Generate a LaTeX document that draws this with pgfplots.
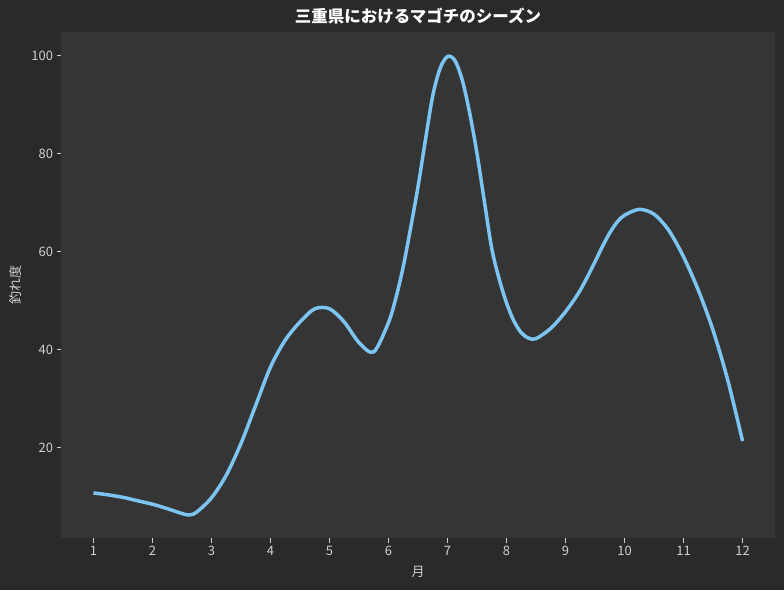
\documentclass[border=0pt]{standalone}
\usepackage{fontspec}
\setmainfont{Noto Sans CJK JP}
\usepackage{pgfplots}
\pgfplotsset{compat=1.18}

\definecolor{outerbg}{HTML}{2A2A2A}
\definecolor{innerbg}{HTML}{353535}
\definecolor{curve}{HTML}{7CC4F2}
\definecolor{ticktext}{HTML}{D0D0D0}

\begin{document}
\begin{tikzpicture}
\fill[outerbg] (-61pt,-52pt) rectangle (723pt,538pt);
\begin{axis}[
  scale only axis,
  width=714pt, height=506pt,
  xmin=0.45, xmax=12.55,
  ymin=1.5, ymax=104.8,
  xtick={1,2,3,4,5,6,7,8,9,10,11,12},
  ytick={20,40,60,80,100},
  axis background/.style={fill=innerbg},
  axis line style={draw=none},
  tick align=outside,
  tick pos=left,
  major tick length=4.5pt,
  tick style={ticktext, line width=0.9pt},
  ticklabel style={font=\fontsize{13}{14}\selectfont, text=ticktext},
  /pgf/number format/assume math mode=true,
  title={三重県におけるマゴチのシーズン},
  title style={font=\fontsize{16.5}{18}\selectfont\bfseries, text=white, yshift=-2pt},
  xlabel={月},
  ylabel={釣れ度},
  label style={font=\fontsize{13}{14}\selectfont, text=ticktext},
  xlabel style={yshift=-4pt},
  ylabel style={yshift=3pt},
]
% monthly seasonality curve
\addplot[curve, line width=3.5pt, smooth] coordinates {
  (1,10.7) (1.25,10.3) (1.5,9.8) (1.75,9.1) (2,8.4) (2.25,7.5) (2.5,6.5)
  (2.625,6.2) (2.75,6.8) (3,9.7) (3.25,14.3) (3.5,20.8) (3.75,28.6) (4,36.4)
  (4.25,41.9) (4.5,45.6) (4.75,48.3) (5,48.3) (5.25,45.6)
  (5.5,41.4) (5.75,39.5) (6,45.5) (6.125,50.5) (6.25,56.9) (6.375,64.8)
  (6.5,73.2) (6.625,82.7) (6.75,91.8) (6.875,97.4) (7,99.8) (7.125,99.0)
  (7.25,95.0) (7.375,88.3) (7.5,80.0) (7.625,70.2) (7.75,60.6) (7.875,54.4)
  (8,49.5) (8.125,45.8) (8.25,43.4) (8.375,42.3) (8.5,42.2)
  (8.75,44.3) (9,47.7) (9.25,52.1) (9.5,57.9) (9.625,61.0) (9.75,63.8)
  (9.875,66.0) (10,67.4) (10.25,68.6) (10.5,67.6) (10.75,64.3) (11,58.9)
  (11.25,52.1) (11.5,43.9) (11.75,33.7) (12,21.3)
};
\end{axis}
\pgfresetboundingbox
\path[use as bounding box] (-61pt,-52pt) rectangle (723pt,538pt);
\end{tikzpicture}
\end{document}
